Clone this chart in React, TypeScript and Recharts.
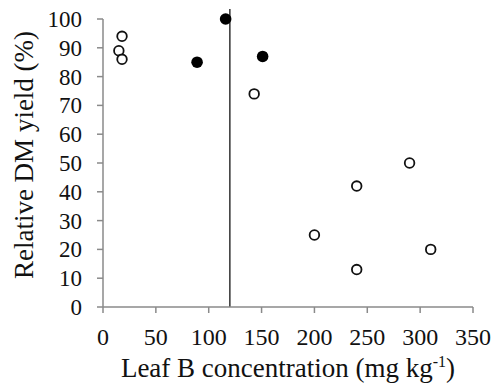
import { Label, ReferenceLine, Scatter, ScatterChart, XAxis, YAxis } from 'recharts';

type Pt = { x: number; y: number };

const openPoints: Pt[] = [
    { x: 18, y: 94 },
    { x: 15, y: 89 },
    { x: 18, y: 86 },
    { x: 143, y: 74 },
    { x: 200, y: 25 },
    { x: 240, y: 42 },
    { x: 240, y: 13 },
    { x: 290, y: 50 },
    { x: 310, y: 20 },
];

const filledPoints: Pt[] = [
    { x: 89, y: 85 },
    { x: 116, y: 100 },
    { x: 151, y: 87 },
];

const xTicks = [0, 50, 100, 150, 200, 250, 300, 350];
const yTicks = [0, 10, 20, 30, 40, 50, 60, 70, 80, 90, 100];
const thresholdX = 120;

const font = 'Liberation Serif, Times New Roman, serif';
const axisColor = '#8a8a8a';

const txt = (size: number) => ({ fontFamily: font, fontSize: size, fill: '#111' });

const OpenDot = (props: any) => (
    <circle cx={props.cx} cy={props.cy} r={4.8} fill="#fff" stroke="#111" strokeWidth={1.8} />
);

const FilledDot = (props: any) => (
    <circle cx={props.cx} cy={props.cy} r={5.8} fill="#000" />
);

const XTick = (props: any) => (
    <text x={props.x} y={props.y + 29} textAnchor="middle" style={txt(24)}>
        {props.payload.value}
    </text>
);

const YTick = (props: any) => (
    <text x={props.x} y={props.y + 8} textAnchor="end" style={txt(23)}>
        {props.payload.value}
    </text>
);

const XTitle = (props: any) => {
    const vb = props.viewBox;
    const cx = vb.x + vb.width / 2;
    return (
        <text x={cx} y={377} textAnchor="middle" style={txt(27)}>
            <tspan>Leaf B concentration (mg kg</tspan>
            <tspan dy={-10} style={{ fontSize: 16 }}>-1</tspan>
            <tspan dy={10}>)</tspan>
        </text>
    );
};

const YTitle = () => (
    <text x={33} y={155} textAnchor="middle" style={txt(27)} transform="rotate(-90 33 155)">
        Relative DM yield (%)
    </text>
);

export default function App() {
    return (
        <div style={{ position: 'absolute', left: 0, top: 0, background: '#fff', fontFamily: font }}>
            <ScatterChart
                width={493}
                height={388}
                margin={{ top: 19, right: 20, bottom: 0, left: 0 }}
            >
                <XAxis
                    type="number"
                    dataKey="x"
                    domain={[0, 350]}
                    ticks={xTicks}
                    interval={0}
                    height={81}
                    stroke={axisColor}
                    strokeWidth={1.5}
                    tickSize={6}
                    tickMargin={3}
                    tick={<XTick />}
                >
                    <Label content={<XTitle />} />
                </XAxis>
                <YAxis
                    type="number"
                    dataKey="y"
                    domain={[0, 100]}
                    ticks={yTicks}
                    interval={0}
                    width={103}
                    stroke={axisColor}
                    strokeWidth={1.5}
                    tickSize={6}
                    tickMargin={15}
                    tick={<YTick />}
                >
                    <Label content={<YTitle />} />
                </YAxis>
                <ReferenceLine
                    segment={[
                        { x: thresholdX, y: 0 },
                        { x: thresholdX, y: 103.5 },
                    ]}
                    ifOverflow="visible"
                    stroke="#333"
                    strokeWidth={1.5}
                />
                <Scatter data={openPoints} shape={OpenDot} isAnimationActive={false} />
                <Scatter data={filledPoints} shape={FilledDot} isAnimationActive={false} />
            </ScatterChart>
        </div>
    );
}
